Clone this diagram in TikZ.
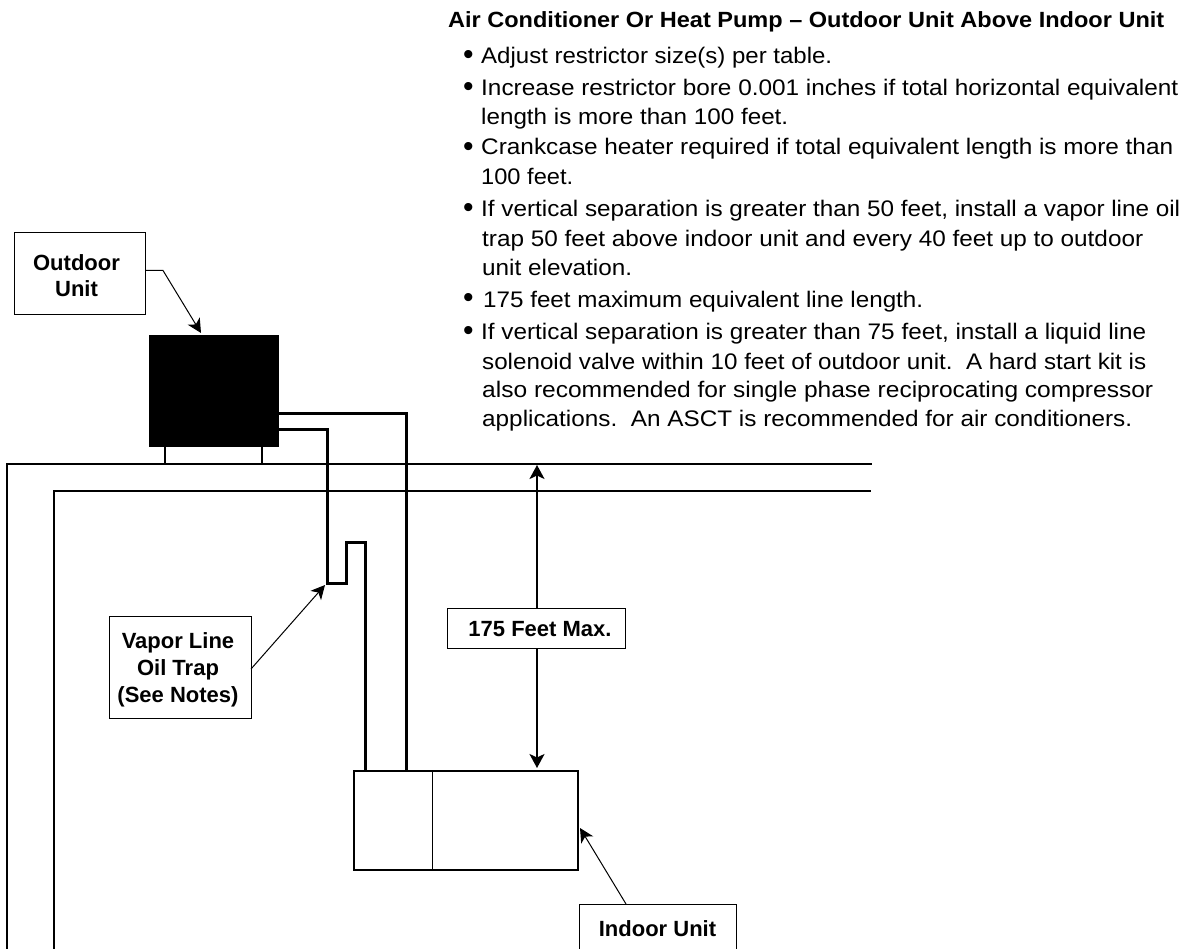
\documentclass[tikz,border=0pt]{standalone}
\usepackage{graphicx}
\usepackage{fontspec}
\setmainfont{Liberation Sans}
\usetikzlibrary{arrows.meta}
\newcommand{\fitline}[2]{\resizebox{#1pt}{\height}{#2}}
\tikzset{
  labelbox/.style={draw=black,line width=1pt,fill=white,inner sep=0pt},
  labeltext/.style={anchor=base,inner sep=0pt,font=\fontsize{22}{27}\selectfont\bfseries},
  bodytext/.style={anchor=base west,inner sep=0pt,font=\fontsize{22.5}{24}\selectfont},
  headtext/.style={anchor=base west,inner sep=0pt,font=\fontsize{22}{24}\selectfont\bfseries},
  dotmark/.style={anchor=base west,inner sep=0pt,font=\fontsize{30}{30}\selectfont},
  wall/.style={line width=2pt,black},
  pipe/.style={line width=3pt,black,miter limit=10},
  unitbox/.style={draw=black,line width=2pt,fill=white,inner sep=0pt},
  thinarrow/.style={line width=1pt,-{Stealth[length=14pt,width=14pt,inset=4pt]}},
  dimarrow/.style={line width=2pt,-{Stealth[length=14pt,width=15pt,inset=3.5pt]}},
}
\begin{document}
\begin{tikzpicture}[x=1pt,y=-1pt]
\useasboundingbox (0,0) rectangle (1193,949);
% notes
\node[headtext] (h) at (448,28) {\fitline{716}{Air Conditioner Or Heat Pump – Outdoor Unit Above Indoor Unit}};
\node[dotmark] (b1) at (463,65) {•};
\node[bodytext] (l1) at (481,64) {\fitline{351}{Adjust restrictor size(s) per table.}};
\node[dotmark] (b2) at (463,97) {•};
\node[bodytext] (l2) at (481,96) {\fitline{697}{Increase restrictor bore 0.001 inches if total horizontal equivalent}};
\node[bodytext] (l3) at (481,125) {\fitline{307}{length is more than 100 feet.}};
\node[dotmark] (b3) at (463,157) {•};
\node[bodytext] (l4) at (481,155) {\fitline{692}{Crankcase heater required if total equivalent length is more than}};
\node[bodytext] (l5) at (481,185) {\fitline{92}{100 feet.}};
\node[dotmark] (b4) at (463,218) {•};
\node[bodytext] (l6) at (481,217) {\fitline{699}{If vertical separation is greater than 50 feet, install a vapor line oil}};
\node[bodytext] (l7) at (482,247) {\fitline{661}{trap 50 feet above indoor unit and every 40 feet up to outdoor}};
\node[bodytext] (l8) at (482,276) {\fitline{150}{unit elevation.}};
\node[dotmark] (b5) at (463,308) {•};
\node[bodytext] (l9) at (483,307) {\fitline{440}{175 feet maximum equivalent line length.}};
\node[dotmark] (b6) at (463,340) {•};
\node[bodytext] (l10) at (481,339) {\fitline{665}{If vertical separation is greater than 75 feet, install a liquid line}};
\node[bodytext] (l11) at (482,369) {\fitline{664}{solenoid valve within 10 feet of outdoor unit.\ \ A hard start kit is}};
\node[bodytext] (l12) at (482,397) {\fitline{671}{also recommended for single phase reciprocating compressor}};
\node[bodytext] (l13) at (482,426) {\fitline{650}{applications.\ \ An ASCT is recommended for air conditioners.}};
% building walls
\coordinate (wo1) at (7,949); \coordinate (wo2) at (7,463.5); \coordinate (wo3) at (872,463.5);
\coordinate (wi1) at (53.5,949); \coordinate (wi2) at (53.5,490.5); \coordinate (wi3) at (871,490.5);
\draw[wall] (wo1) -- (wo2) -- (wo3);
\draw[wall] (wi1) -- (wi2) -- (wi3);
% outdoor unit
\node[fill=black,inner sep=0pt,minimum width=130pt,minimum height=112pt] (odu) at (214,391) {};
\coordinate (f1) at (164.5,463.5); \coordinate (f2) at (261.5,463.5);
\draw[line width=2pt] (f1) -- (f1 |- odu.south);
\draw[line width=2pt] (f2) -- (f2 |- odu.south);
% indoor unit
\node[unitbox,minimum width=223.5pt,minimum height=98.5pt] (idu) at (465.75,820.25) {};
\coordinate (dv) at (432.5,820);
\draw[line width=1pt] (dv |- idu.north) -- (dv |- idu.south);
% pipes
\coordinate (p1) at (279,413.5); \coordinate (p2) at (406.5,413.5);
\draw[pipe] (p1) -- (p2) -- (p2 |- idu.north);
\coordinate (q1) at (279,429.5); \coordinate (q2) at (327,429.5); \coordinate (q3) at (327,583);
\coordinate (q4) at (346,583); \coordinate (q5) at (346,542); \coordinate (q6) at (365,542);
\draw[pipe] (q1) -- (q2) -- (q3) -- (q4) -- (q5) -- (q6) -- (q6 |- idu.north);
% labels
\node[labelbox,minimum width=131pt,minimum height=82pt] (lo) at (79.5,274) {};
\node[labeltext] (lo1) at (76.5,270.7) {Outdoor};
\node[labeltext] (lo2) at (76.5,297) {Unit};
\node[labelbox,minimum width=142pt,minimum height=102pt] (lv) at (180,667) {};
\node[labeltext] (lv1) at (178,648) {Vapor Line};
\node[labeltext] (lv2) at (178,675) {Oil Trap};
\node[labeltext] (lv3) at (178,702) {(See Notes)};
\node[labelbox,minimum width=178pt,minimum height=40pt] (lf) at (536,628) {};
\node[labeltext] (lf1) at (540,636) {175 Feet Max.};
\node[labelbox,minimum width=157pt,minimum height=51pt] (li) at (657.5,929.5) {};
\node[labeltext] (li1) at (657.5,936) {Indoor Unit};
% connectors
\coordinate (ob) at (163,270.5); \coordinate (ot) at (201,333);
\draw[thinarrow] (lo.east |- ob) -- (ob) -- (ot);
\coordinate (vs) at (251,669); \coordinate (vt) at (325,585);
\draw[thinarrow] (vs) -- (vt);
\coordinate (is) at (626,904); \coordinate (it) at (580,828);
\draw[thinarrow] (is) -- (it);
\coordinate (dt) at (537,465); \coordinate (db) at (537,768);
\draw[dimarrow] (lf.north -| dt) -- (dt);
\draw[dimarrow] (lf.south -| db) -- (db);
\end{tikzpicture}
\end{document}
